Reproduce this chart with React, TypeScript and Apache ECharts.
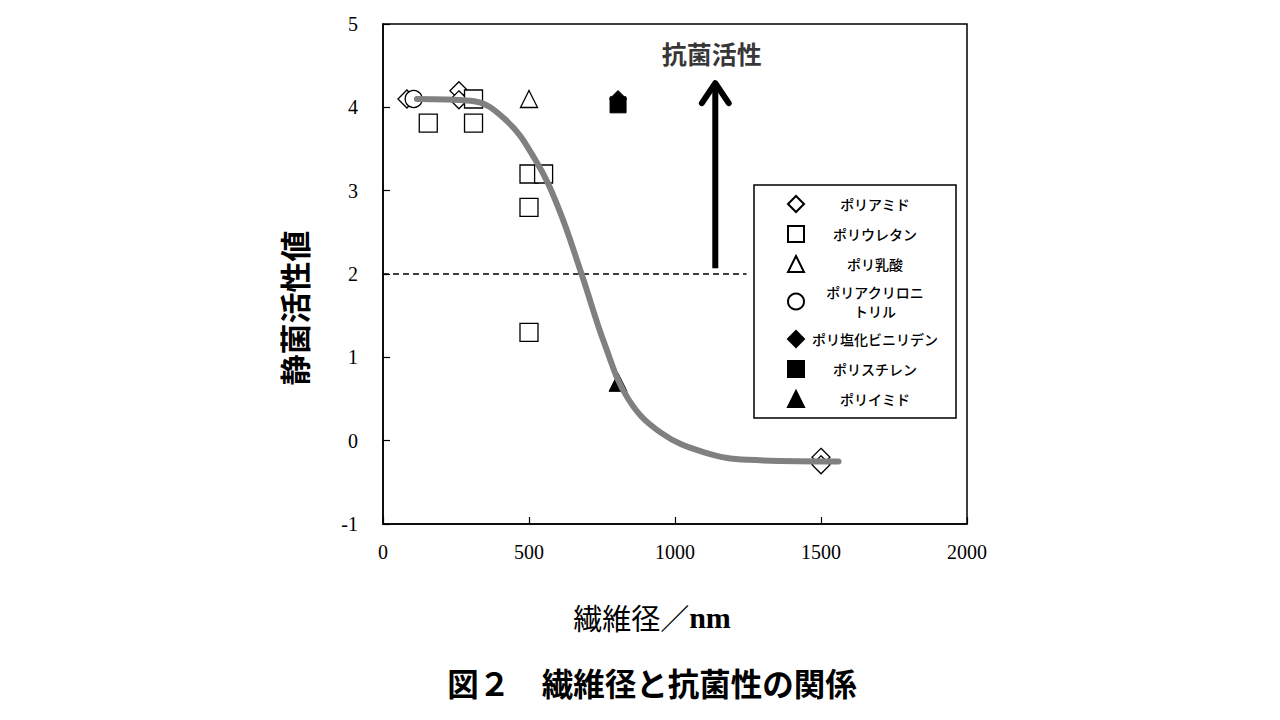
import React, { useEffect, useRef } from 'react';
import * as echarts from 'echarts';

const xTicks = [0, 500, 1000, 1500, 2000];
const yTicks = [-1, 0, 1, 2, 3, 4, 5];

// [fiber diameter (nm), antibacterial activity]
const polyamide = [[82, 4.1], [260, 4.2], [260, 4.09], [1500, -0.2], [1500, -0.29]];
const polyurethane = [[155, 3.81], [310, 3.81], [310, 4.1], [500, 3.2], [550, 3.2], [500, 2.8], [500, 1.3]];
const polylactic = [[500, 4.1]];
const polyacrylonitrile = [[105, 4.1]];
const pvdc = [[805, 4.1]];
const polystyrene = [[805, 4.03]];
const polyimide = [[805, 0.7]];

const trendCurve = [
  [116, 4.1], [300, 4.08], [420, 3.85], [520, 3.38], [600, 2.8], [680, 2.0],
  [760, 1.15], [840, 0.5], [950, 0.1], [1100, -0.14], [1250, -0.23], [1560, -0.25],
];
const thresholdLine = [[0, 2], [1245, 2]];
const arrowShaft = [[1138, 2.07], [1138, 4.24]];
const arrowHead = [[1092, 4.05], [1138, 4.29], [1184, 4.05]];
const arrowLabel = [[1126, 4.65]];

const legendNames = ['ポリアミド', 'ポリウレタン', 'ポリ乳酸', 'ポリアクリロニトリル', 'ポリ塩化ビニリデン', 'ポリスチレン', 'ポリイミド'];

const serif = 'Liberation Serif';
const gothic = 'Noto Sans CJK JP';

const openStyle = { color: '#fff', borderColor: '#000', borderWidth: 1.3, opacity: 1 };
const fillStyle = { color: '#000', borderColor: '#000', borderWidth: 1, opacity: 1 };

const App: React.FC = () => {
  const chartRef = useRef<HTMLDivElement>(null);

  useEffect(() => {
    if (!chartRef.current) return;
    const chart = echarts.init(chartRef.current, undefined, { renderer: 'svg' });

    const scatter = (name: string, data: number[][], symbol: string, size: number, style: object) => ({
      name,
      type: 'scatter',
      data,
      symbol,
      symbolSize: size,
      itemStyle: style,
      z: 3,
    });

    const axisCommon = {
      axisLine: { onZero: false, lineStyle: { color: '#000', width: 1.5 } },
      axisTick: { inside: true, length: 7, lineStyle: { color: '#000', width: 1.2 } },
      splitLine: { show: false },
    };

    const options: echarts.EChartsOption = {
      animation: false,
      backgroundColor: '#fff',
      grid: {
        left: 383,
        top: 24,
        width: 584,
        height: 500,
        show: true,
        borderColor: '#000',
        borderWidth: 1.5,
        backgroundColor: 'transparent',
      },
      xAxis: {
        type: 'value',
        min: xTicks[0],
        max: xTicks[xTicks.length - 1],
        interval: 500,
        ...axisCommon,
        axisLabel: { color: '#000', fontFamily: serif, fontSize: 20, margin: 18, formatter: (v: number) => String(v) },
      },
      yAxis: {
        type: 'value',
        min: yTicks[0],
        max: yTicks[yTicks.length - 1],
        interval: 1,
        ...axisCommon,
        axisLabel: { color: '#000', fontFamily: serif, fontSize: 20, margin: 25, formatter: (v: number) => String(v) },
      },
      legend: {
        orient: 'vertical',
        left: 754,
        top: 185,
        data: legendNames,
        itemWidth: 16,
        itemHeight: 16,
        itemGap: 12,
        padding: [10, 15, 10, 33],
        backgroundColor: '#fff',
        borderColor: '#000',
        borderWidth: 1.5,
        borderRadius: 0,
        formatter: (name: string) =>
          name === 'ポリアクリロニトリル' ? '{c|ポリアクリロニ}\n{c|トリル}' : `{c|${name}}`,
        textStyle: {
          color: '#000',
          fontFamily: gothic,
          fontSize: 14,
          rich: {
            c: { width: 132, align: 'center', fontSize: 14, lineHeight: 19, fontFamily: gothic, fontWeight: 500, color: '#000' },
          },
        },
      },
      graphic: [
        {
          type: 'text',
          x: 293,
          y: 308,
          rotation: Math.PI / 2,
          style: {
            text: '静菌活性値',
            textAlign: 'center',
            textVerticalAlign: 'middle',
            fontFamily: gothic,
            fontSize: 31,
            fontWeight: 'bold',
            fill: '#000',
          },
        },
        {
          type: 'text',
          x: 652,
          y: 617,
          style: {
            text: '{a|繊維径／}{b|nm}',
            textAlign: 'center',
            textVerticalAlign: 'middle',
            rich: {
              a: { fontFamily: gothic, fontSize: 29, fill: '#000' },
              b: { fontFamily: serif, fontSize: 30, fontWeight: 'bold', fill: '#000' },
            },
          },
        },
        {
          type: 'text',
          x: 652,
          y: 682,
          style: {
            text: '図２　繊維径と抗菌性の関係',
            textAlign: 'center',
            textVerticalAlign: 'middle',
            fontFamily: gothic,
            fontSize: 31.5,
            fontWeight: 'bold',
            fill: '#000',
          },
        },
      ],
      series: [
        {
          name: 'threshold',
          type: 'line',
          data: thresholdLine,
          symbol: 'none',
          silent: true,
          lineStyle: { color: '#000', width: 1.5, type: [6, 4] },
          z: 1,
        },
        {
          name: 'arrowShaft',
          type: 'line',
          data: arrowShaft,
          symbol: 'none',
          silent: true,
          lineStyle: { color: '#000', width: 6, cap: 'butt' },
          z: 1,
        },
        {
          name: 'arrowHead',
          type: 'line',
          data: arrowHead,
          symbol: 'none',
          silent: true,
          lineStyle: { color: '#000', width: 6, cap: 'round', join: 'round' },
          z: 1,
        },
        {
          name: 'arrowLabel',
          type: 'scatter',
          data: arrowLabel,
          symbolSize: 0,
          silent: true,
          label: {
            show: true,
            position: 'inside',
            formatter: '抗菌活性',
            color: '#000',
            fontFamily: gothic,
            fontSize: 25,
            fontWeight: 'bold',
          },
        },
        scatter('ポリアミド', polyamide, 'diamond', 18, openStyle),
        scatter('ポリウレタン', polyurethane, 'rect', 18, openStyle),
        scatter('ポリ乳酸', polylactic, 'triangle', 17, openStyle),
        scatter('ポリアクリロニトリル', polyacrylonitrile, 'circle', 17, openStyle),
        scatter('ポリ塩化ビニリデン', pvdc, 'diamond', 17, fillStyle),
        scatter('ポリスチレン', polystyrene, 'rect', 16, fillStyle),
        scatter('ポリイミド', polyimide, 'triangle', 18, fillStyle),
        {
          name: 'trend',
          type: 'line',
          data: trendCurve,
          smooth: 0.4,
          symbol: 'none',
          silent: true,
          lineStyle: { color: '#808080', width: 6, cap: 'round' },
          z: 5,
        },
      ],
    };

    chart.setOption(options);

    return () => {
      chart.dispose();
    };
  }, []);

  return (
    <div
      ref={chartRef}
      style={{ position: 'fixed', left: 0, top: 0, width: 1280, height: 720 }}
    />
  );
};

export default App;
